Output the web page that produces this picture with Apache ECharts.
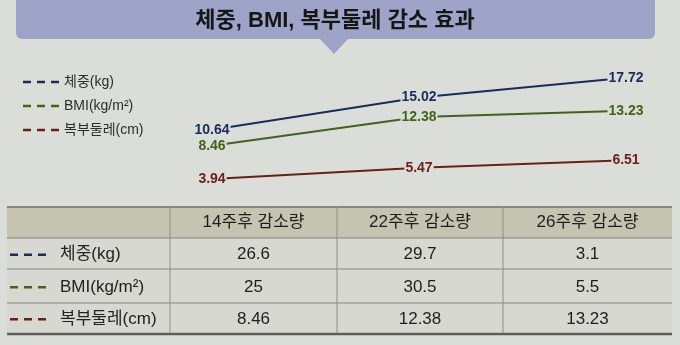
<!DOCTYPE html>
<html><head><meta charset="utf-8">
<script src="https://cdn.jsdelivr.net/npm/echarts@6/dist/echarts.min.js"></script>
<style>html,body{margin:0;padding:0;background:#dbded8;}#c{width:680px;height:345px;}</style>
</head><body><div id="c"></div>
<script>
const title = '체중, BMI, 복부둘레 감소 효과';
const categories = ['14주', '22주', '26주'];
const seriesNames = ['체중(kg)', 'BMI(kg/m²)', '복부둘레(cm)'];
const weight = [10.64, 15.02, 17.72];
const bmi = [8.46, 12.38, 13.23];
const waist = [3.94, 5.47, 6.51];
const tableHeaders = ['14주후 감소량', '22주후 감소량', '26주후 감소량'];
const tableRows = ['체중(kg)', 'BMI(kg/m²)', '복부둘레(cm)'];
const tableWeight = ['26.6', '29.7', '3.1'];
const tableBmi = ['25', '30.5', '5.5'];
const tableWaist = ['8.46', '12.38', '13.23'];

const colors = ['#1c2a5e', '#44621c', '#6b1f1a'];
const BG = '#dbded8';
const FONT = '"Noto Sans CJK KR", "Noto Sans", sans-serif';
const TFONT = '"Liberation Sans", "Noto Sans CJK KR", sans-serif';

const chart = echarts.init(document.getElementById('c'));

const g = [];
// title banner
g.push({type:'rect', shape:{x:16,y:-6,width:639,height:45,r:6}, style:{fill:'#9ea4c8'}, z:1});
g.push({type:'polygon', shape:{points:[[319,38],[349,38],[334,54]]}, style:{fill:'#9ea4c8'}, z:1});
g.push({type:'text', x:335, y:21, style:{text:title, fill:'#161616', font:'bold 22px ' + TFONT, textAlign:'center', textVerticalAlign:'middle'}, z:2});

// table
const colX = [7, 170, 337, 503, 672];
const rowY = [207, 238, 269, 303, 333];
g.push({type:'rect', shape:{x:7,y:207,width:665,height:31}, style:{fill:'#c7c3b1'}, z:1});
g.push({type:'rect', shape:{x:7,y:238,width:665,height:95}, style:{fill:'#d6d8d1'}, z:1});
g.push({type:'line', shape:{x1:7,y1:207,x2:672,y2:207}, style:{stroke:'#6c6c68',lineWidth:1.5}, z:3});
[238,269,303].forEach(y=>g.push({type:'line', shape:{x1:7,y1:y,x2:672,y2:y}, style:{stroke:'#85857f',lineWidth:1}, z:3}));
g.push({type:'line', shape:{x1:7,y1:334,x2:672,y2:334}, style:{stroke:'#5e5e5a',lineWidth:2.5}, z:3});
[170,337,503].forEach(x=>g.push({type:'line', shape:{x1:x,y1:207,x2:x,y2:333}, style:{stroke:'#8e8e88',lineWidth:1}, z:3}));
tableHeaders.forEach((h,i)=>g.push({type:'text', x:(colX[i+1]+colX[i+2])/2, y:222, style:{text:h, fill:'#1e1e1e', font:'17px ' + TFONT, textAlign:'center', textVerticalAlign:'middle'}, z:4}));
const tableVals = [tableWeight, tableBmi, tableWaist];
tableRows.forEach((r,ri)=>{
  const cy = (rowY[ri+1]+rowY[ri+2])/2 + 1;
  for(let d=0; d<3; d++){
    g.push({type:'rect', shape:{x:10+d*14,y:cy-1,width:8,height:2.5}, style:{fill:colors[ri]}, z:4});
  }
  g.push({type:'text', x:60, y:cy, style:{text:r, fill:'#222', font:'17px ' + TFONT, textAlign:'left', textVerticalAlign:'middle'}, z:4});
  tableVals[ri].forEach((v,ci)=>g.push({type:'text', x:(colX[ci+1]+colX[ci+2])/2, y:cy, style:{text:v, fill:'#1e1e1e', font:'17px ' + TFONT, textAlign:'center', textVerticalAlign:'middle'}, z:4}));
});

function mk(name, data, color){
  return {
    name, type:'line', data,
    symbol:'circle', symbolSize:2,
    lineStyle:{color, width:2},
    itemStyle:{color},
    label:{show:true, position:'inside', color, fontSize:14, fontWeight:'bold', fontFamily:'"Liberation Sans", sans-serif', backgroundColor:BG, padding:[0,1]},
    z:5
  };
}

chart.setOption({
  backgroundColor: BG,
  animation:false,
  graphic: g,
  legend:{
    orient:'vertical', left:18, top:70, itemGap:10,
    icon:'path://M0,0h8v2.5h-8z M14,0h8v2.5h-8z M28,0h8v2.5h-8z',
    itemWidth:36, itemHeight:3,
    textStyle:{color:'#2c2c2c', fontSize:14, fontFamily:TFONT},
    data: seriesNames
  },
  grid:{left:212, right:54, top:61, bottom:137},
  xAxis:{type:'category', data:categories, boundaryGap:false, show:false},
  yAxis:{type:'value', min:0, max:20, show:false},
  series:[mk(seriesNames[0], weight, colors[0]), mk(seriesNames[1], bmi, colors[1]), mk(seriesNames[2], waist, colors[2])]
});
</script></body></html>
